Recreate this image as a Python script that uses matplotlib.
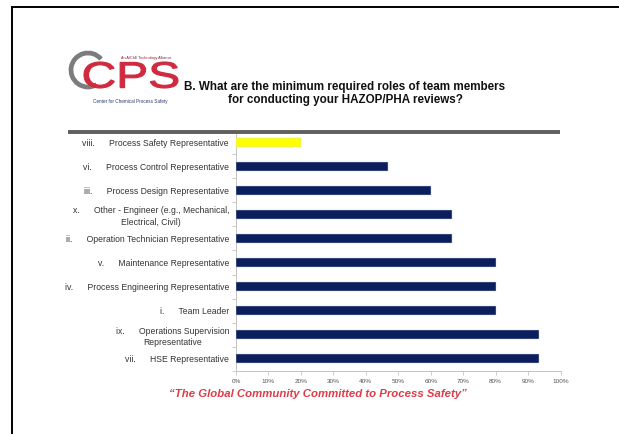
import numpy as np
import matplotlib
matplotlib.use("Agg")
import matplotlib.pyplot as plt
from matplotlib.lines import Line2D
from matplotlib.patches import Arc, PathPatch
from matplotlib.textpath import TextPath
from matplotlib.font_manager import FontProperties
from matplotlib.transforms import Affine2D
from matplotlib.ticker import FixedLocator, PercentFormatter

plt.rcParams['font.family'] = ['Liberation Sans', 'DejaVu Sans']

# survey answers, top row first
codes = ['viii.', 'vi.', 'iii.', 'x.', 'ii.', 'v.', 'iv.', 'i.', 'ix.', 'vii.']
roles = ['Process Safety Representative',
         'Process Control Representative',
         'Process Design Representative',
         'Other - Engineer (e.g., Mechanical,\nElectrical, Civil)',
         'Operation Technician Representative',
         'Maintenance Representative',
         'Process Engineering Representative',
         'Team Leader',
         'Operations Supervision\nRepresentative',
         'HSE Representative']
share = [20.0, 46.7, 60.0, 66.7, 66.7, 80.0, 80.0, 80.0, 93.3, 93.3]
highlight = 'viii.'

title = ('B. What are the minimum required roles of team members\n'
         'for conducting your HAZOP/PHA reviews?')
footer = '\u201cThe Global Community Committed to Process Safety\u201d'

W, H = 619, 434
fig = plt.figure(figsize=(W / 100, H / 100), dpi=100)
fig.patch.set_facecolor('white')


def fx(px):
    return px / W


def fy(py):
    return 1 - py / H


ax = fig.add_axes([fx(236), fy(371), fx(560.5) - fx(236), fy(130) - fy(371)])

pos = np.arange(len(codes))[::-1]
navy = '#0c1f5c'
cols = ['#ffff00' if c == highlight else navy for c in codes]
ax.barh(pos, share, height=0.37, color=cols, edgecolor='#c8d2e6', linewidth=0.3, zorder=3)

ax.set_xlim(0, 100)
ax.set_ylim(-0.5, len(codes) - 0.5)
ax.xaxis.set_major_locator(FixedLocator(np.arange(0, 101, 10)))
ax.xaxis.set_major_formatter(PercentFormatter(decimals=0))
ax.tick_params(axis='x', length=3, width=0.6, color='#c4c4c4', labelsize=4.6,
               labelcolor='#555555', pad=3)

ax.set_yticks(pos)
labels = [f'{c}      {r}' for c, r in zip(codes, roles)]
ax.set_yticklabels(labels, fontsize=6.2, color='#333333')
for t in ax.get_yticklabels():
    t.set_multialignment('center')
    t.set_linespacing(1.35)
ax.tick_params(axis='y', which='major', length=0, pad=5)
ax.yaxis.set_minor_locator(FixedLocator(np.arange(-0.5, len(codes), 1)))
ax.tick_params(axis='y', which='minor', length=3, width=0.6, color='#c4c4c4')

for s in ['top', 'right']:
    ax.spines[s].set_visible(False)
for s in ['left', 'bottom']:
    ax.spines[s].set_color('#c4c4c4')
    ax.spines[s].set_linewidth(0.7)

# heavy rule above the chart
fig.add_artist(Line2D([fx(68), fx(560)], [fy(131.5), fy(131.5)], color='#5f5f5f',
                      linewidth=2.8, solid_capstyle='butt'))

# slide frame
fig.add_artist(Line2D([fx(12), 1.0], [fy(7), fy(7)], color='black', linewidth=1.4))
fig.add_artist(Line2D([fx(12), fx(12)], [fy(7), 0.0], color='black', linewidth=1.4))

fig.text(fx(345), fy(93.5), title, ha='center', va='center', fontsize=8.4,
         fontweight='bold', color='#111111', linespacing=1.2)

fig.text(fx(318), fy(394), footer, ha='center', va='center', fontsize=8.2,
         fontweight='bold', style='italic', color='#df3b47')

# CCPS logo: grey ring behind stretched red letters
ring = Arc((88, H - 70), 34, 34, theta1=40, theta2=300, color='#7c7c7c', linewidth=3.4)
ring.set_transform(Affine2D().scale(1 / W, 1 / H) + fig.transFigure)
fig.add_artist(ring)

tp = TextPath((0, 0), 'CPS', size=1, prop=FontProperties(family='Liberation Sans'))
ext = tp.get_extents()
x0, x1, ytop, ybot = 84, 178, 62, 88
tr = (Affine2D().translate(-ext.x0, -ext.y0)
      .scale((x1 - x0) / ext.width / W, (ybot - ytop) / ext.height / H)
      .translate(fx(x0), fy(ybot)) + fig.transFigure)
fig.add_artist(PathPatch(tp, facecolor='#cf2a3f', edgecolor='#cf2a3f', linewidth=0.8,
                         transform=tr))

fig.text(fx(146), fy(58), 'An AIChE Technology Alliance', fontsize=2.7,
         color='#8a2030', va='center', ha='center')
fig.text(fx(130.5), fy(101.5), 'Center for Chemical Process Safety', fontsize=3.3,
         color='#2b3a6b', va='center', ha='center')

fig.savefig('out.png', dpi=100, facecolor='white')
